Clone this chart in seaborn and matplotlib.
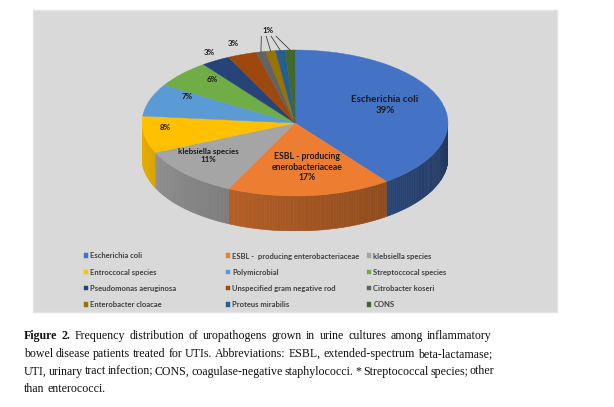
import numpy as np
import matplotlib
matplotlib.use("Agg")
import matplotlib.pyplot as plt
import seaborn as sns
from matplotlib.patches import Rectangle
from matplotlib.collections import PolyCollection
from matplotlib.colors import to_rgb

# ---------------- data ----------------
categories = ["Escherichia coli", "ESBL -  producing enterobacteriaceae", "klebsiella species",
              "Entroccocal species", "Polymicrobial", "Streptoccocal species",
              "Pseudomonas aeruginosa", "Unspecified gram negative rod", "Citrobacter koseri",
              "Enterobacter cloacae", "Proteus mirabilis", "CONS"]
percent = [39, 17, 11, 8, 7, 6, 3, 3, 1, 1, 1, 1]
slice_labels = ["Escherichia coli\n39%", "ESBL - producing\nenerobacteriaceae\n17%",
                "klebsiella species\n11%", "8%", "7%", "6%", "3%", "3%", "", "", "", ""]
small_label = "1%"
colors = ["#4472C4", "#ED7D31", "#A5A5A5", "#FFC000", "#5B9BD5", "#70AD47",
          "#264478", "#9E480E", "#636363", "#997300", "#255E91", "#43682B"]
caption_bold = "Figure 2."
caption_lines = [
    "Frequency distribution of uropathogens grown in urine cultures among inflammatory",
    "bowel disease patients treated for UTIs. Abbreviations: ESBL, extended-spectrum beta-lactamase;",
    "UTI, urinary tract infection; CONS, coagulase-negative staphylococci. * Streptococcal species; other",
    "than enterococci.",
]

# label placement (radius as fraction of pie radius, plus small nudges in axis units)
label_r = [0.62, 0.58, 0.72, 0.86, 0.80, 0.80, 1.13, 1.16, 0, 0, 0, 0]
label_dx = [0.0, 0.026, -0.046, 0.0, 0.052, 0.052, 0.026, 0.0, 0, 0, 0, 0]
label_dy = [0.055, -0.027, 0.055, 0.08, 0.11, 0.055, 0.0, 0.0, 0, 0, 0, 0]
label_fs = [7.0, 6.2, 5.8, 5.8, 5.8, 5.8, 5.8, 5.8, 0, 0, 0, 0]

sns.set_style("white")
plt.rcParams["font.family"] = ["Lato", "DejaVu Sans"]

W, H = 614, 407
fig = plt.figure(figsize=(W / 100, H / 100), dpi=100)
fig.patch.set_facecolor("white")


def fx(px):
    return px / W


def fy(py):
    return 1 - py / H


# grey chart panel
fig.patches.append(Rectangle((fx(33), fy(312)), (557 - 33) / W, (312 - 10) / H,
                             transform=fig.transFigure, facecolor="#d9d9d9",
                             edgecolor="#e4e4e4", lw=1.0, zorder=-10))

# ---------------- 3D-style pie ----------------
cx, cy, rx, ry, depth = 295, 123, 153, 73, 35
d = depth / ry
ax = fig.add_axes([fx(cx - rx), fy(cy + ry + depth), 2 * rx / W, (2 * ry + depth) / H])
ax.set_zorder(2)
wedges, _ = ax.pie(percent, colors=colors, startangle=90, counterclock=False,
                   wedgeprops=dict(linewidth=0.3, edgecolor="#d0d0d0"))
for w, c in zip(wedges, colors):
    w.set_edgecolor(c)
    w.set_zorder(3)
ax.set_aspect("auto")
ax.set_xlim(-1, 1)
ax.set_ylim(-1 - d, 1)
ax.axis("off")

# side walls (front half), derived from wedge angles
polys, fcs = [], []
for w, c in zip(wedges, colors):
    t1, t2 = w.theta1, w.theta2
    n = max(int(abs(t2 - t1)), 2)
    angs = np.linspace(t1, t2, n + 1)
    base = np.array(to_rgb(c))
    for a, b in zip(angs[:-1], angs[1:]):
        m = np.deg2rad((a + b) / 2)
        if np.sin(m) > 0.001:
            continue
        ar, br = np.deg2rad(a), np.deg2rad(b)
        pa = (np.cos(ar), min(np.sin(ar), 0))
        pb = (np.cos(br), min(np.sin(br), 0))
        polys.append([pa, pb, (pb[0], pb[1] - d), (pa[0], pa[1] - d)])
        phi = np.rad2deg(m) % 360
        t = (phi - 180) / 180
        f = 0.92 - 0.45 * t
        fcs.append(tuple(np.clip(base * f, 0, 1)))
pc = PolyCollection(polys, facecolors=fcs, edgecolors=fcs, linewidths=0.4, zorder=1)
ax.add_collection(pc)

# slice labels
for w, lab, r, ddx, ddy, fs in zip(wedges, slice_labels, label_r, label_dx, label_dy, label_fs):
    if not lab:
        continue
    m = np.deg2rad((w.theta1 + w.theta2) / 2)
    ax.text(r * np.cos(m) + ddx, r * np.sin(m) + ddy, lab, ha="center", va="center",
            fontsize=fs, fontweight="bold", color="#1a1a1a", linespacing=1.25,
            zorder=5, clip_on=False)

# leader lines for the 1% slices
small = [w for w, p in zip(wedges, percent) if p == 1]
lx, ly = -0.175, 1.27
ax.text(lx, ly, small_label, ha="center", va="center", fontsize=5.8,
        fontweight="bold", color="#1a1a1a", clip_on=False)
offs = np.linspace(-0.045, 0.05, len(small))
for w, o in zip(small, offs):
    m = np.deg2rad((w.theta1 + w.theta2) / 2)
    ax.plot([lx + o, np.cos(m)], [ly - 0.08, np.sin(m)], color="#404040",
            lw=0.6, clip_on=False, zorder=4)

# ---------------- legend (3 columns, row-wise order) ----------------
col_x = [85, 227, 368]
for j in range(3):
    idx = list(range(j, len(categories), 3))
    leg = fig.legend([wedges[i] for i in idx], [categories[i] for i in idx],
                     loc="upper left", bbox_to_anchor=(fx(col_x[j] - 1), fy(252.5)),
                     bbox_transform=fig.transFigure, frameon=False, ncol=1,
                     prop=dict(family=["Lato", "DejaVu Sans"], size=5.5, weight="bold"),
                     handlelength=0.55, handleheight=0.55, handletextpad=0.3,
                     labelspacing=1.2, borderpad=0, borderaxespad=0)
    for t in leg.get_texts():
        t.set_color("#404040")

# ---------------- caption (justified) ----------------
cap_font = dict(family="Liberation Serif", size=8.6, color="#111111")
x_left, x_right = 24, 492
baselines = [339, 357, 374.5, 392]
fig.canvas.draw()
renderer = fig.canvas.get_renderer()
t_a = fig.text(0, 0, "a a", **cap_font)
t_b = fig.text(0, 0, "aa", **cap_font)
space_w = t_a.get_window_extent(renderer).width - t_b.get_window_extent(renderer).width
t_a.remove()
t_b.remove()


def place_line(words, bolds, y, justify):
    texts = []
    for wd, b in zip(words, bolds):
        t = fig.text(0, fy(y), wd, ha="left", va="baseline",
                     fontweight="bold" if b else "normal", **cap_font)
        texts.append(t)
    widths = [t.get_window_extent(renderer).width for t in texts]
    if justify and len(words) > 1:
        gap = max((x_right - x_left - sum(widths)) / (len(words) - 1), 0.6 * space_w)
    else:
        gap = space_w
    x = x_left
    for t, wdt in zip(texts, widths):
        t.set_x(fx(x))
        x += wdt + gap


w1 = caption_bold.split() + caption_lines[0].split()
b1 = [True] * len(caption_bold.split()) + [False] * len(caption_lines[0].split())
place_line(w1, b1, baselines[0], True)
for k in range(1, 4):
    ws = caption_lines[k].split()
    place_line(ws, [False] * len(ws), baselines[k], k < 3)

fig.savefig("out.png", dpi=100)
